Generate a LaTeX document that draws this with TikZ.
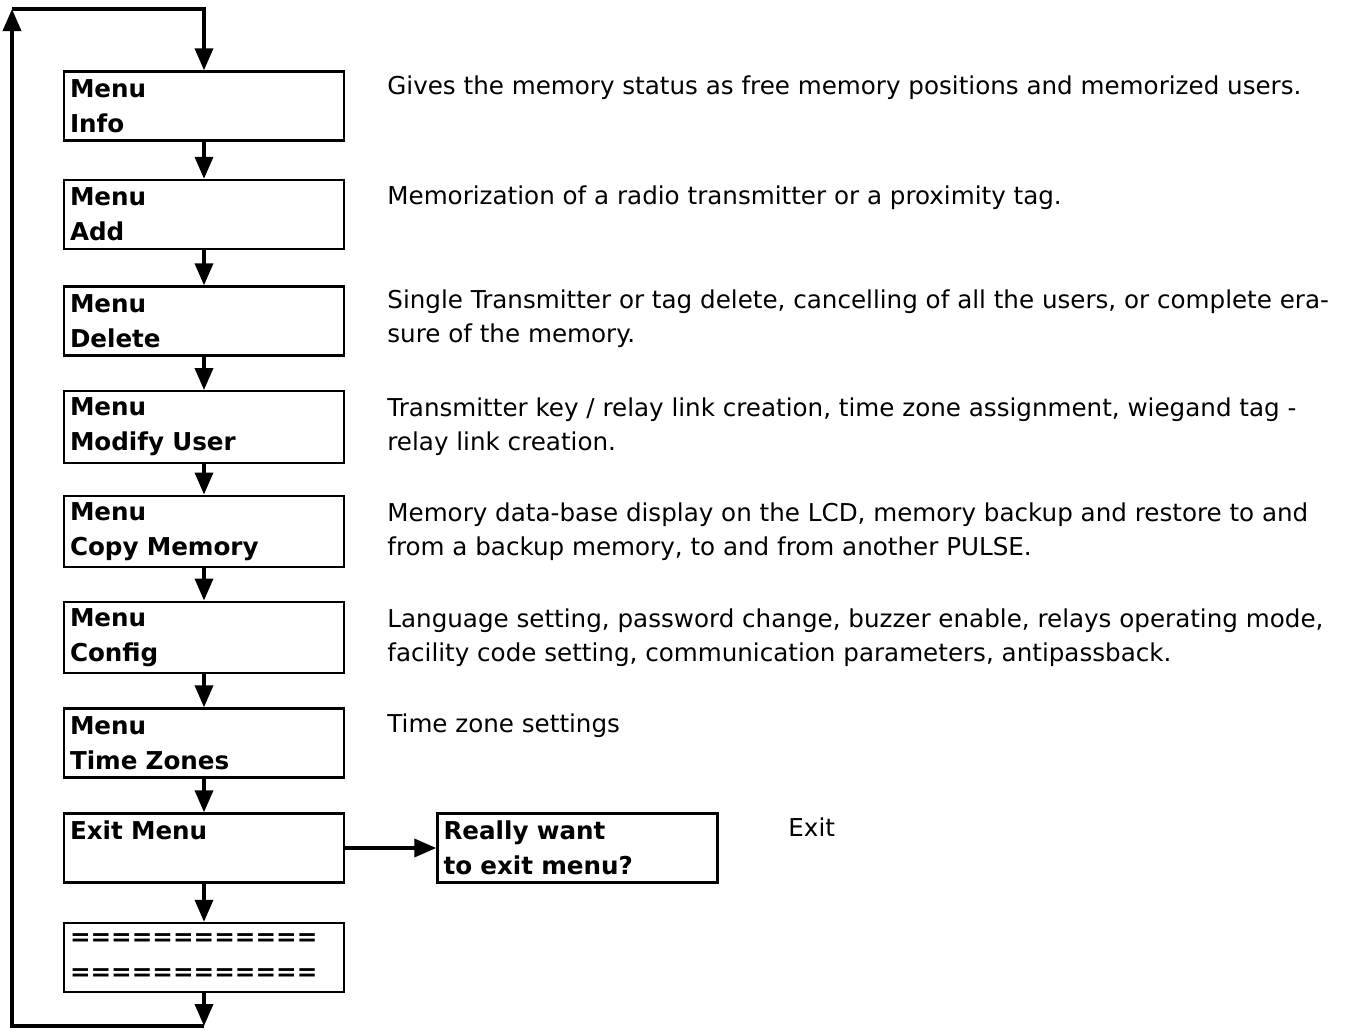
\documentclass[tikz,border=0pt]{standalone}
\usepackage{fontspec}
\setmainfont{DejaVu Sans}
\usetikzlibrary{arrows.meta}

\begin{document}
\begin{tikzpicture}[
x=0.5pt, y=-0.5pt,
menubox/.style={rectangle, draw, line width=1.2pt, minimum width=140pt, minimum height=34.5pt, text width=134pt, inner xsep=2.5pt, align=left, font=\fontsize{12.3pt}{17.5pt}\selectfont\bfseries},
desc/.style={anchor=west, align=left, inner sep=0pt, font=\fontsize{12.3pt}{17pt}\selectfont},
arrow/.style={-{Triangle[length=11pt,width=9pt]}, line width=1.8pt}
]
\useasboundingbox (0,0) rectangle (1357,1030);

% Define nodes
\node (info) [menubox] at (204,106) {Menu\\Info};
\node (add) [menubox] at (204,214.5) {Menu\\Add};
\node (delete) [menubox] at (204,321) {Menu\\Delete};
\node (modify) [menubox] at (204,427) {Menu\\Modify User};
\node (copy) [menubox] at (204,531.5) {Menu\\Copy Memory};
\node (config) [menubox] at (204,637.5) {Menu\\Config};
\node (zones) [menubox] at (204,743) {Menu\\Time Zones};
\node (exit) [menubox] at (204,848) {Exit Menu\\\phantom{I}};
\node (bars) [menubox] at (204,957.5) {============\\============};
\node (really) [menubox] at (577.5,848) {Really want\\to exit menu?};

% Descriptions
\node (info_txt) [desc] at (387,88) {Gives the memory status as free memory positions and memorized users.};
\node (add_txt) [desc] at (387,198) {Memorization of a radio transmitter or a proximity tag.};
\node (delete_txt) [desc] at (387,319) {Single Transmitter or tag delete, cancelling of all the users, or complete era-\\sure of the memory.};
\node (modify_txt) [desc] at (387,426.5) {Transmitter key / relay link creation, time zone assignment, wiegand tag -\\relay link creation.};
\node (copy_txt) [desc] at (387,531.5) {Memory data-base display on the LCD, memory backup and restore to and\\from a backup memory, to and from another PULSE.};
\node (config_txt) [desc] at (387,638) {Language setting, password change, buzzer enable, relays operating mode,\\facility code setting, communication parameters, antipassback.};
\node (zones_txt) [desc] at (387,726) {Time zone settings};
\node (exit_txt) [desc] at (788,827) {Exit};

% Loop corners
\coordinate (loop_bl) at (12,1026);
\coordinate (loop_tl) at (12,9);

% Arrows
\draw [arrow] (info) -- (add);
\draw [arrow] (add) -- (delete);
\draw [arrow] (delete) -- (modify);
\draw [arrow] (modify) -- (copy);
\draw [arrow] (copy) -- (config);
\draw [arrow] (config) -- (zones);
\draw [arrow] (zones) -- (exit);
\draw [arrow] (exit) -- (bars);
\draw [arrow] (exit) -- (really);

% Back to the top
\draw [arrow] (bars) -- (bars.south |- loop_bl);
\draw [arrow] (bars.south |- loop_bl) -- (loop_bl) -- (loop_tl);
\draw [arrow] (loop_tl) -- (info.north |- loop_tl) -- (info);

\end{tikzpicture}
\end{document}
